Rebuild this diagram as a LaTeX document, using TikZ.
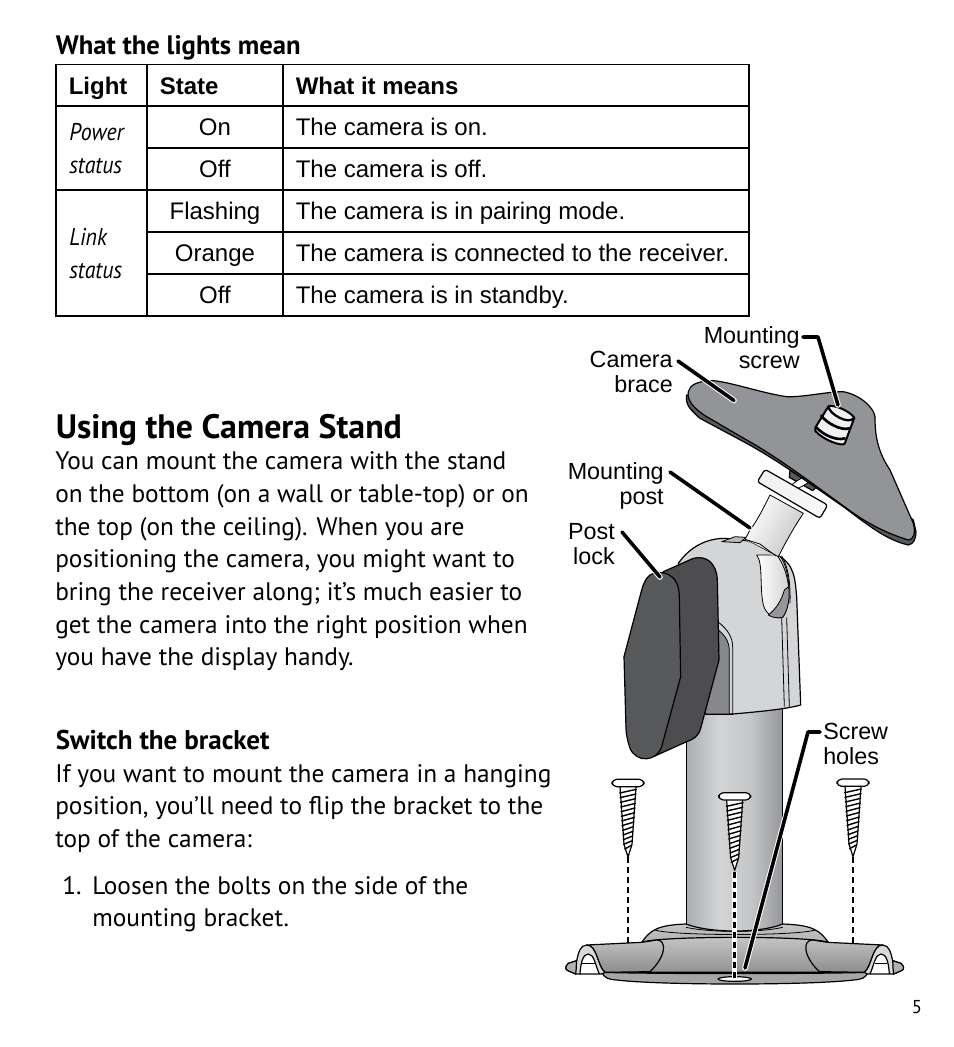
\documentclass[tikz,border=0pt]{standalone}
\usepackage{fontspec}
\usepackage{graphicx}
\setmainfont{PT Sans}
\newfontfamily\arialf{Liberation Sans}
\usetikzlibrary{calc}
\definecolor{braceg}{RGB}{146,148,151}
\definecolor{braced}{RGB}{88,89,91}
\definecolor{lockf}{RGB}{88,89,91}
\definecolor{lockb}{RGB}{77,77,79}
\definecolor{bodyg}{RGB}{212,213,215}
\definecolor{panelg}{RGB}{150,151,154}
\definecolor{pilA}{RGB}{172,173,175}
\definecolor{pilB}{RGB}{211,212,214}
\definecolor{pilC}{RGB}{198,199,201}
\definecolor{pilD}{RGB}{150,151,154}
\pgfdeclarehorizontalshading{pillarshade}{100bp}{color(0bp)=(pilA); color(25bp)=(pilA); color(42bp)=(pilB); color(58bp)=(pilC); color(75bp)=(pilD); color(100bp)=(pilD)}
\tikzset{
  z1/.style={shift={(560,320)},x=.25pt,y=-.25pt},
  z2/.style={shift={(600,530)},x=.25pt,y=-.25pt},
  z3/.style={shift={(560,770)},x=.25pt,y=-.25pt},
  z4/.style={shift={(800,395)},x=.25pt,y=-.25pt},
  ink/.style={draw=black,line width=.9pt,line join=round},
  thin ink/.style={draw=black,line width=.6pt,line join=round},
  tcell/.style={inner sep=0pt,anchor=base west,font=\arialf\fontsize{18pt}{20pt}\selectfont},
  tcellc/.style={inner sep=0pt,anchor=base,font=\arialf\fontsize{18pt}{20pt}\selectfont},
  thead/.style={inner sep=0pt,anchor=base west,font=\arialf\bfseries\fontsize{18pt}{20pt}\selectfont},
  titem/.style={inner sep=0pt,anchor=north west,align=left,font=\itshape\fontsize{18.2pt}{24.7pt}\selectfont},
  para/.style={inner sep=0pt,anchor=north west,align=left,font=\fontsize{19pt}{24.5pt}\selectfont},
  lbl/.style={inner sep=0pt,anchor=north east,align=right,font=\arialf\fontsize{17.5pt}{19pt}\selectfont},
  lbll/.style={inner sep=0pt,anchor=north west,align=left,font=\arialf\fontsize{17.5pt}{19pt}\selectfont},
  leader/.style={draw=black,line width=2.7pt,line cap=round,line join=round},
  halo/.style={draw=white,line width=4.2pt,line cap=round,line join=round},
  pics/woodscrew/.style={code={
    \fill[white] (-24,22) -- (24,22) -- (12,190) -- (0,233) -- (-12,190) -- cycle;
    \draw[ink] (-24,22) -- (-12,195) -- (0,233) -- (12,195) -- (24,22);
    \foreach \yy/\w in {35/25,49/24,63/23,77/22,91/21,105/20,119/19,133/18,147/16,161/15,175/14,189/13,203/10}{
      \draw[draw=black,line width=1.05pt,line cap=round] (-\w,\yy+6) -- (\w,\yy-5);
    }
    \draw[ink,fill=white,rounded corners=3.5pt] (-48,0) rectangle (48,22);
  }},
  pics/basehook/.style={code={
    \shade[top color=gray!50,bottom color=gray!90,ink]
      (80,525) -- (245,517) -- (290,510) .. controls (322,510) and (318,560) .. (270,605)
      -- (135,607) .. controls (112,590) and (112,525) .. (80,525) -- cycle;
    \draw[ink,fill=gray!30] (80,525) .. controls (60,525) and (55,550) .. (50,572)
      -- (25,580) .. controls (15,590) and (15,598) .. (24,602) -- (47,612) -- (125,612)
      -- (135,607) .. controls (112,590) and (112,525) .. (80,525) -- cycle;
    \fill[white] (60,609) .. controls (62,575) and (70,552) .. (85,552)
      .. controls (102,552) and (106,585) .. (117,609) -- cycle;
    \draw[ink] (60,612) .. controls (62,575) and (70,552) .. (85,552)
      .. controls (102,552) and (106,585) .. (118,612);
    \draw[ink] (66,580) -- (104,580);
    \draw[ink,fill=gray!60] (50,572) .. controls (48,590) and (50,600) .. (47,612) -- (24,602) .. controls (15,598) and (15,590) .. (25,580) -- cycle;
  }}
}
\begin{document}
\begin{tikzpicture}[x=.75pt,y=-.75pt]
\useasboundingbox (0,0) rectangle (954,1047);
\fill[white] (0,0) rectangle (954,1047);
% ---- headings and text
\node[inner sep=0pt,anchor=base west,font=\bfseries\fontsize{20pt}{22pt}\selectfont] (tblhead) at (55.5,54) {What the lights mean};
% ---- table
\draw[line width=1.1pt] (56,64.5) rectangle (749,316);
\draw[line width=1.1pt] (147,64.5) -- (147,316) (283,64.5) -- (283,316)
  (56,106) -- (749,106) (147,148) -- (749,148) (56,190) -- (749,190)
  (147,232) -- (749,232) (147,274) -- (749,274);
\node[thead] (h1) at (68.5,94) {Light};
\node[thead] (h2) at (159.5,94) {State};
\node[thead] (h3) at (295.5,94) {What it means};
\node[titem] (p1) at (69,123) {\scalebox{.9}[1]{Power}\\\scalebox{.9}[1]{status}};
\node[titem] (p2) at (69,228) {\scalebox{.9}[1]{Link}\\\scalebox{.9}[1]{status}};
\node[tcellc] (s1) at (215,135) {On};
\node[tcellc] (s2) at (215,177) {Off};
\node[tcellc] (s3) at (215,219) {Flashing};
\node[tcellc] (s4) at (215,261) {Orange};
\node[tcellc] (s5) at (215,303) {Off};
\node[tcell] (m1) at (295.5,135) {The camera is on.};
\node[tcell] (m2) at (295.5,177) {The camera is off.};
\node[tcell] (m3) at (295.5,219) {The camera is in pairing mode.};
\node[tcell] (m4) at (295.5,261) {The camera is connected to the receiver.};
\node[tcell] (m5) at (295.5,303) {The camera is in standby.};
% ---- body
\node[inner sep=0pt,anchor=base west,font=\bfseries\fontsize{25.4pt}{28pt}\selectfont] (title) at (55.5,438) {Using the Camera Stand};
\node[para] (par1) at (55,451.5) {You can mount the camera with the stand\\on the bottom (on a wall or table-top) or on\\the top (on the ceiling). When you are\\positioning the camera, you might want to\\bring the receiver along; it’s much easier to\\get the camera into the right position when\\you have the display handy.};
\node[inner sep=0pt,anchor=base west,font=\bfseries\fontsize{20.3pt}{22pt}\selectfont] (sub) at (55.5,749) {Switch the bracket};
\node[para] (par2) at (55,764) {If you want to mount the camera in a hanging\\position, you’ll need to flip the bracket to the\\top of the camera:};
\node[para] (num) at (62,876) {1.};
\node[para] (par3) at (92,876) {Loosen the bolts on the side of the\\mounting bracket.};
\node[inner sep=0pt,anchor=base,font=\fontsize{14pt}{16pt}\selectfont] (page) at (917,1013) {5};
% ---- pillar
\shade[shading=pillarshade] (686.5,700) -- (782.7,700) -- (782.7,926) .. controls (760,932) and (710,932) .. (686.5,926) -- cycle;
\draw[ink] (686.5,700) -- (686.5,926) (782.7,700) -- (782.7,926);
% ---- base (z3 units)
\begin{scope}[z3]
\shade[top color=gray!45,bottom color=gray!60,ink]
  (245,517) .. controls (270,482) and (290,465) .. (378,462)
  .. controls (450,490) and (600,490) .. (668,462)
  .. controls (760,465) and (780,482) .. (805,517) -- cycle;
\draw[thin ink] (285,480) .. controls (340,498) and (710,498) .. (765,480);
\draw[thin ink] (378,472) .. controls (450,488) and (600,488) .. (668,472);
\shade[top color=gray!45,bottom color=gray!85,ink]
  (245,517) .. controls (300,497) and (750,497) .. (805,517) -- (925,607) -- (125,607) -- cycle;
% front rim
\draw[ink,fill=gray!70] (125,607) .. controls (300,612) and (750,612) .. (925,607)
  .. controls (915,625) and (905,628) .. (880,630)
  .. controls (750,646) and (300,646) .. (170,630)
  .. controls (145,628) and (135,625) .. (125,607) -- cycle;
\pic {basehook};
\pic[xscale=-1] at (1048,0) {basehook};
% hole
\draw[ink,fill=white] (524,627) ellipse (50 and 7);
% dashed guides
\coordinate (g1a) at (204,262); \coordinate (g1b) at (204,518);
\coordinate (g2a) at (524,305); \coordinate (g2b) at (524,624);
\coordinate (g3a) at (879,262); \coordinate (g3b) at (879,518);
\draw[line width=1.9pt,dash pattern=on 4.5pt off 3pt] (g1a) -- (g1b);
\draw[line width=1.9pt,dash pattern=on 4.5pt off 3pt] (g3a) -- (g3b);
\draw[white,line width=3.6pt] (g2a) -- (g2b);
\draw[line width=1.9pt,dash pattern=on 4.5pt off 3pt] (g2a) -- (g2b);
% screws
\pic at (204,28) {woodscrew};
\pic at (524,68) {woodscrew};
\pic at (879,27) {woodscrew};
\end{scope}
% ---- mount body (z2 units)
\begin{scope}[z2]
\path[ink,fill=bodyg] (235,100) .. controls (270,50) and (320,25) .. (375,25)
  -- (440,32) -- (530,75) .. controls (585,100) and (585,150) .. (590,200)
  -- (602,525) .. controls (560,537) and (480,545) .. (398,552) -- (315,552) -- (355,300) -- cycle;
% scoop
\shade[left color=white,right color=gray!35,thin ink] (470,75) .. controls (490,100) and (478,170) .. (490,225)
  .. controls (498,255) and (525,268) .. (548,262) .. controls (565,240) and (570,200) .. (566,160)
  .. controls (562,120) and (550,85) .. (535,75) -- cycle;
\draw[thin ink,fill=panelg] (505,255) .. controls (530,235) and (545,210) .. (553,180)
  -- (566,170) .. controls (570,200) and (565,240) .. (548,262) .. controls (535,266) and (515,262) .. (505,255) -- cycle;
% seams
\draw[thin ink] (530,75) .. controls (550,100) and (560,130) .. (566,170);
\draw[thin ink] (545,78) .. controls (565,110) and (572,160) .. (570,220);
\draw[thin ink] (545,262) -- (553,530);
\draw[thin ink] (560,262) -- (568,531);
\draw[thin ink,fill=panelg!90!black] (355,300) .. controls (380,320) and (388,340) .. (388,365)
  -- (388,552) -- (315,552) -- cycle;
\draw[thin ink] (357,278) .. controls (385,300) and (398,325) .. (398,350) -- (398,552);
\draw[thin ink] (315,552) -- (398,552);
% lock
\draw[ink,fill=lockb] (190,125) -- (280,85) .. controls (320,75) and (350,100) .. (352,150)
  -- (357,390) -- (302,595) .. controls (295,620) and (280,628) .. (260,635) -- (160,680) -- (100,500) -- cycle;
\draw[ink,fill=lockf] (150,135) .. controls (175,122) and (205,125) .. (225,150)
  .. controls (235,165) and (238,185) .. (238,205) -- (242,440) -- (185,650)
  .. controls (170,695) and (110,700) .. (90,655) .. controls (82,630) and (78,610) .. (78,595)
  -- (72,380) -- (125,180) .. controls (130,160) and (140,142) .. (150,135) -- cycle;
\end{scope}
% ---- post and brace (z1 units)
\begin{scope}[z1]
% sliver
\draw[thin ink,fill=gray!55] (485,665) -- (525,650) -- (558,652) -- (540,668) -- cycle;
% shaft
\shade[left color=white,right color=gray!45,shading angle=60,thin ink] (555,658) -- (570,630) .. controls (590,605) and (610,565) .. (630,525)
  -- (730,580) .. controls (700,625) and (675,670) .. (655,710) -- cycle;
\fill[bodyg] (555,658) -- (655,712) -- (600,692) -- cycle;
\draw[thin ink] (555,658) -- (600,672) -- (648,708);
% bolt
\draw[ink,fill=braced] (690,450) -- (770,500) -- (758,512) -- (688,472) -- cycle;
\draw[thin ink,fill=white,rotate around={30:(725,487)}] (725,487) ellipse (45 and 11);
% collar
\shade[left color=gray!12,right color=gray!5,ink,rounded corners=2pt] (615,448) -- (803,555) -- (780,595) -- (592,485) -- cycle;
% brace
\draw[ink,fill=braced] (380,225) .. controls (376,250) and (385,265) .. (420,295)
  -- (560,370) .. controls (650,420) and (720,470) .. (850,560)
  .. controls (930,620) and (980,660) .. (1045,675)
  .. controls (1062,672) and (1068,655) .. (1068,635) -- (1060,600) -- (700,300) -- cycle;
\draw[ink,fill=braceg] (385,215) .. controls (390,195) and (410,183) .. (460,182)
  .. controls (520,188) and (600,218) .. (680,230)
  .. controls (730,232) and (800,215) .. (850,215)
  .. controls (900,225) and (940,260) .. (945,290)
  .. controls (945,340) and (950,390) .. (990,450)
  -- (1060,610) .. controls (1068,640) and (1060,660) .. (1045,660)
  .. controls (980,640) and (920,610) .. (860,565)
  .. controls (750,485) and (650,410) .. (560,360)
  -- (440,290) .. controls (400,265) and (380,240) .. (385,215) -- cycle;
\end{scope}
% ---- mounting screw (z4 units)
\begin{scope}[z4]
\draw[draw=black,line width=1.5pt,line join=round,fill=gray!12] (86,33) .. controls (110,30) and (150,50) .. (163,68)
  -- (134,146) .. controls (125,155) and (70,135) .. (46,108) .. controls (42,100) and (48,95) .. (52,88) -- cycle;
\draw[draw=black,line width=1.7pt] (86,35) .. controls (85,55) and (145,90) .. (161,70);
\draw[draw=black,line width=2pt,line cap=round] (64,62) .. controls (80,85) and (125,108) .. (148,100);
\draw[draw=black,line width=2pt,line cap=round] (50,98) .. controls (70,120) and (110,138) .. (134,130);
\end{scope}
% ---- labels
\node[lbl] (lcam) at (673,351) {Camera\\brace};
\node[lbl] (lscr) at (800,326) {Mounting\\screw};
\node[lbl] (lpost) at (664,462) {Mounting\\post};
\node[lbl] (llock) at (615,523) {Post\\lock};
\node[lbll] (lhole) at (823,723) {Screw\\holes};
% ---- targets
\coordinate (tcam) at (734,400.5);
\coordinate (tscr) at (838,405);
\coordinate (tscrb) at (818,337);
\coordinate (tpost) at (750,528);
\coordinate (tlock) at (660,577);
\coordinate (thole) at (745,968);
\coordinate (tholeb) at (808,732);
\coordinate (scam) at (678,361);
\coordinate (sscr) at (803,337);
\coordinate (spost) at (670,472);
\coordinate (slock) at (622,532);
\coordinate (shole) at (820,732);
\draw[halo] (scam) -- (tcam);
\draw[leader] (scam) -- (tcam);
\draw[halo] (sscr) -- (tscrb) -- (tscr);
\draw[leader] (sscr) -- (tscrb) -- (tscr);
\draw[halo] (spost) -- (tpost);
\draw[leader] (spost) -- (tpost);
\draw[halo] (slock) -- (tlock);
\draw[leader] (slock) -- (tlock);
\draw[halo] (shole) -- (tholeb) -- (thole);
\draw[leader] (shole) -- (tholeb) -- (thole);
\end{tikzpicture}
\end{document}
